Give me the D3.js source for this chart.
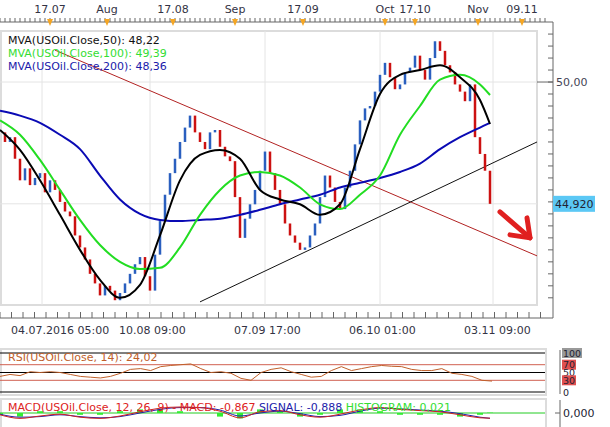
<!DOCTYPE html>
<html><head><meta charset="utf-8">
<script src="https://cdn.jsdelivr.net/npm/d3@7"></script>
<style>body{margin:0;background:#fff}text{font-family:"DejaVu Sans",Verdana,sans-serif}</style>
</head><body><svg id="c" width="610" height="427"></svg>
<script>
// DATA (bar index, one bar ~ one step)
const closes = [47.9,47.5,47.7,46.8,45.9,46.4,45.7,46.0,46.2,45.4,45.9,45.5,45.0,44.6,44.4,43.6,43.1,42.6,42.0,41.6,
41.1,41.5,41.3,40.9,41.2,41.6,42.0,42.4,42.7,41.9,41.3,42.8,44.2,45.3,46.2,46.8,47.5,48.1,48.6,47.9,
47.5,47.2,47.9,48.0,47.3,46.9,46.7,45.2,43.5,44.3,44.9,45.5,46.3,47.1,46.2,45.5,44.9,44.1,43.6,43.3,
43.0,43.1,43.6,44.1,45.2,46.1,45.6,45.0,44.7,45.6,46.3,47.4,48.4,48.9,49.0,49.6,50.3,50.8,50.2,49.7,
49.9,50.4,50.6,51.1,50.5,50.1,51.0,51.7,51.3,50.7,50.4,49.9,49.6,49.2,49.9,47.7,47.0,46.3,44.92];
const maIdx = [0,4,8,12,16,20,24,28,32,36,40,44,48,52,56,60,64,68,72,76,80,84,88,92,96,98];
const ma50  = [48.0,47.17,45.9,44.46,43.0,41.75,41.0,41.54,43.6,45.9,46.96,47.17,46.8,45.5,45.1,44.9,44.46,44.9,47.2,49.5,50.3,50.5,50.7,50.2,49.25,48.25];
const ma100 = [48.4,47.8,46.75,45.5,44.25,43.2,42.5,42.2,42.25,43.1,44.46,45.5,46.1,46.25,46.1,45.6,44.9,44.7,45.3,46.1,47.8,49.0,50.1,50.3,49.9,49.46];
const ma200 = [48.8,48.6,48.3,47.8,47.2,46.1,45.1,44.5,44.25,44.2,44.25,44.3,44.46,44.67,44.9,45.1,45.3,45.6,45.8,46.0,46.25,46.6,47.2,47.7,48.1,48.3];
const rsi = [40,45,42,52,50,52,50,45,40,38,36,40,48,58,60,55,65,68,70,72,60,50,52,48,35,30,50,58,62,52,45,38,40,55,65,55,60,65,68,66,65,58,55,55,60,48,45,40,30,28];
const macd   = [-0.3,-0.9,-0.5,-0.2,-0.7,-0.9,-0.5,0.2,0.8,1.0,0.9,0.3,-0.8,0.2,0.4,-0.3,-0.7,-0.2,0.5,0.9,0.6,0.4,0.2,-0.3,-0.8,-0.867];
const signal = [-0.2,-0.7,-0.6,-0.3,-0.6,-0.8,-0.6,0,0.6,0.9,0.9,0.5,-0.5,0,0.3,-0.1,-0.6,-0.4,0.3,0.8,0.7,0.5,0.3,-0.1,-0.7,-0.888];
const topLabels = [["17.07",10],["Aug",21.4],["17.08",34.6],["Sep",47],["17.09",60.6],["Oct",77],["17.10",83],["Nov",95.6],["09.11",104.4]];
const bottomLabels = [["04.07.2016 05:00",8.4],["10.08 09:00",30],["07.09 17:00",53],["06.10 01:00",76],["03.11 09:00",99]];
const redTrend = [[11,51.33],[107.4,42.75]];
const blackTrend = [[40,40.83],[107.4,47.5]];
const arrow = [[100,44.58],[106,43.5]];

const svg = d3.select("#c");
const x = d3.scaleLinear().domain([0,107.4]).range([0,537]);
const y = d3.scaleLinear().domain([40.7,52.17]).range([305,30]);

// top axis
const tg = svg.append("g");
tg.append("line").attr("x1",0).attr("x2",553).attr("y1",22).attr("y2",22).attr("stroke","#666");
tg.selectAll("line.t").data(d3.range(0,110,1)).enter().append("line")
  .attr("x1",d=>x(d)).attr("x2",d=>x(d)).attr("y1",18).attr("y2",22).attr("stroke","#666");
tg.selectAll("path").data(topLabels).enter().append("path")
  .attr("d",d=>`M${x(d[1])-3},19L${x(d[1])+3},19L${x(d[1])},26Z`).attr("fill","#f5a623");
tg.selectAll("text").data(topLabels).enter().append("text")
  .attr("x",d=>x(d[1])).attr("y",13).attr("text-anchor","middle").attr("font-size",11).attr("fill","#334").text(d=>d[0]);

// main frame + grid
svg.append("rect").attr("x",1).attr("y",31).attr("width",536).attr("height",274).attr("fill","#fff").attr("stroke","#dcdcdc").attr("stroke-width",2);
[8.4,30,53,76,98.6].forEach(v=>svg.append("line").attr("x1",x(v)).attr("x2",x(v)).attr("y1",31).attr("y2",305).attr("stroke","#e4e4e4"));
[50,44.92].forEach(v=>svg.append("line").attr("x1",0).attr("x2",537).attr("y1",y(v)).attr("y2",y(v)).attr("stroke","#e4e4e4"));

// right axis
svg.append("line").attr("x1",553).attr("x2",553).attr("y1",22).attr("y2",318).attr("stroke","#666");
svg.selectAll("line.ry").data(d3.range(41,52.1,0.5)).enter().append("line")
  .attr("x1",548).attr("x2",553).attr("y1",d=>y(d)).attr("y2",d=>y(d)).attr("stroke","#666");
svg.append("line").attr("x1",537).attr("x2",553).attr("y1",y(50)).attr("y2",y(50)).attr("stroke","#666");
svg.append("text").attr("x",556).attr("y",y(50)+4).attr("font-size",11).attr("fill","#445").text("50,00");
svg.append("rect").attr("x",553).attr("y",y(44.92)-8).attr("width",42).attr("height",16).attr("fill","#5bc8f5");
svg.append("text").attr("x",555).attr("y",y(44.92)+4).attr("font-size",11).attr("fill","#223").text("44,920");

// bottom axis
svg.append("line").attr("x1",0).attr("x2",553).attr("y1",318).attr("y2",318).attr("stroke","#666");
svg.selectAll("line.bt").data(d3.range(0,110,2.3)).enter().append("line")
  .attr("x1",d=>x(d)).attr("x2",d=>x(d)).attr("y1",312).attr("y2",318).attr("stroke","#666");
svg.selectAll("text.bl").data(bottomLabels).enter().append("text")
  .attr("x",d=>Math.max(0,x(d[1])-31)).attr("y",334).attr("font-size",11).attr("fill","#334").text(d=>d[0]);

// trend lines
const ln = d3.line().x(d=>x(d[0])).y(d=>y(d[1]));
svg.append("path").attr("d",ln(redTrend)).attr("stroke","#b22222").attr("fill","none");
svg.append("path").attr("d",ln(blackTrend)).attr("stroke","#111").attr("fill","none");

// candles
svg.append("g").selectAll("line").data(closes.slice(1)).enter().append("line")
  .attr("x1",(d,i)=>x(i+1)).attr("x2",(d,i)=>x(i+1))
  .attr("y1",(d,i)=>y(closes[i])).attr("y2",d=>y(d))
  .attr("stroke",(d,i)=>d<closes[i]?"#cc1111":"#2a5fbf").attr("stroke-width",2.5);

// moving averages
const maLine = d3.line().curve(d3.curveMonotoneX).x((d,i)=>x(maIdx[i])).y(d=>y(d));
[[ma200,"#0a0ab4"],[ma100,"#22dd22"],[ma50,"#000"]].forEach(([s,c])=>
  svg.append("path").attr("d",maLine(s)).attr("stroke",c).attr("stroke-width",2).attr("fill","none"));

// arrow
const a0=[x(arrow[0][0]),y(arrow[0][1])], a1=[x(arrow[1][0]),y(arrow[1][1])];
svg.append("line").attr("x1",a0[0]).attr("y1",a0[1]).attr("x2",a1[0]).attr("y2",a1[1]).attr("stroke","#e02020").attr("stroke-width",5).attr("stroke-linecap","round");
svg.append("path").attr("d",`M${a1[0]-20},${a1[1]-3}L${a1[0]},${a1[1]}L${a1[0]-3},${a1[1]-20}`).attr("stroke","#e02020").attr("stroke-width",5).attr("fill","none").attr("stroke-linecap","round").attr("stroke-linejoin","round");

// legend
[["MVA(USOil.Close,50): 48,22","#111"],["MVA(USOil.Close,100): 49,39","#33dd33"],["MVA(USOil.Close,200): 48,36","#1a1aaa"]]
  .forEach((d,i)=>svg.append("text").attr("x",8).attr("y",44+i*13).attr("font-size",11).attr("fill",d[1]).text(d[0]));

// RSI panel
const ry = d3.scaleLinear().domain([0,100]).range([392,353]);
const xr = d3.scaleLinear().domain([0,49]).range([0,492]);
svg.append("rect").attr("x",1).attr("y",349).attr("width",545).attr("height",46).attr("fill","#fff").attr("stroke","#dcdcdc").attr("stroke-width",2);
[100,50,0].forEach(v=>svg.append("line").attr("x1",0).attr("x2",545).attr("y1",ry(v)).attr("y2",ry(v)).attr("stroke","#000"));
[70,30].forEach(v=>svg.append("line").attr("x1",0).attr("x2",545).attr("y1",ry(v)).attr("y2",ry(v)).attr("stroke","#d06050"));
svg.append("path").attr("d",d3.line().x((d,i)=>xr(i)).y(d=>ry(d))(rsi)).attr("stroke","#c0602a").attr("fill","none");
svg.append("text").attr("x",8).attr("y",361).attr("font-size",11).attr("fill","#c0602a").text("RSI(USOil.Close, 14): 24,02");
svg.append("line").attr("x1",560).attr("x2",560).attr("y1",350).attr("y2",394).attr("stroke","#666");
[[100,"#999"],[70,"#e05050"],[50,null],[30,"#e05050"],[0,null]].forEach(([v,c])=>{
  if(c) svg.append("rect").attr("x",562).attr("y",ry(v)-5).attr("width",c=="#999"?20:14).attr("height",10).attr("fill",c);
  svg.append("text").attr("x",563).attr("y",ry(v)+3.5).attr("font-size",9.5).attr("fill","#223").text(v);
});

// MACD panel
const my = d3.scaleLinear().domain([0,1]).range([413,407]);
svg.append("rect").attr("x",1).attr("y",399).attr("width",545).attr("height",30).attr("fill","#fff").attr("stroke","#dcdcdc").attr("stroke-width",2);
svg.append("line").attr("x1",0).attr("x2",545).attr("y1",my(0)).attr("y2",my(0)).attr("stroke","#22cc22");
svg.append("g").selectAll("rect").data(macd).enter().append("rect")
  .attr("x",(d,i)=>x(maIdx[i])-3).attr("width",6)
  .attr("y",(d,i)=>Math.min(my(0),my((d-signal[i])*3)))
  .attr("height",(d,i)=>Math.abs(my((d-signal[i])*3)-my(0))).attr("fill","#33ee33");
const ml = d3.line().curve(d3.curveMonotoneX).x((d,i)=>x(maIdx[i])).y(d=>my(d));
svg.append("path").attr("d",ml(signal)).attr("stroke","#2222aa").attr("fill","none");
svg.append("path").attr("d",ml(macd)).attr("stroke","#cc2222").attr("fill","none");
const mt = svg.append("text").attr("x",8).attr("y",411).attr("font-size",11);
mt.append("tspan").attr("fill","#dd2222").text("MACD(USOil.Close, 12, 26, 9) - MACD: -0,867 ");
mt.append("tspan").attr("fill","#2222aa").text(" SIGNAL: -0,888 ");
mt.append("tspan").attr("fill","#33dd33").text(" HISTOGRAM: 0,021");
svg.append("line").attr("x1",560).attr("x2",560).attr("y1",400).attr("y2",427).attr("stroke","#666");
svg.append("line").attr("x1",555).attr("x2",560).attr("y1",my(0)).attr("y2",my(0)).attr("stroke","#666");
svg.append("text").attr("x",563).attr("y",my(0)+4).attr("font-size",11).attr("fill","#223").text("0,000");
</script></body></html>
